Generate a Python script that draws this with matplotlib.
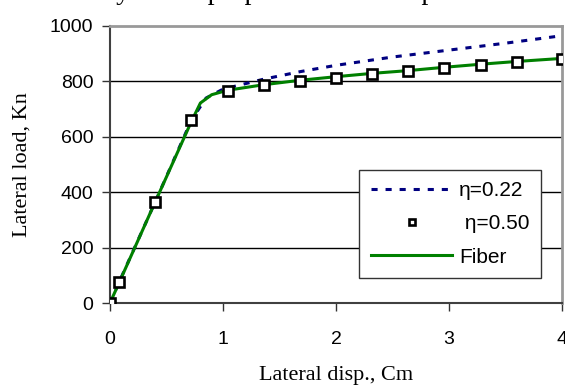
import matplotlib
matplotlib.use('Agg')
import matplotlib.pyplot as plt

# ── data ────────────────────────────────────────────────────
# eta = 0.22 (dotted)
d22 = [0, 0.08, 0.4, 0.72, 0.85, 1.0, 1.36, 1.68, 2.0, 2.5, 3.0, 3.5, 4.0]
p22 = [0, 75, 365, 660, 740, 772, 808, 835, 858, 888, 913, 938, 965]

# eta = 0.50 (markers)
d50 = [0, 0.08, 0.4, 0.72, 1.04, 1.36, 1.68, 2.0, 2.32, 2.64, 2.96, 3.28, 3.6, 4.0]
p50 = [0, 75, 365, 660, 766, 786, 801, 814, 828, 836, 848, 860, 869, 881]

# fiber model (solid)
dfb = [0, 0.4, 0.72, 0.8, 0.9, 1.04, 1.36, 1.68, 2.0, 2.32, 2.64, 2.96, 3.28, 3.6, 4.0]
pfb = [0, 365, 655, 722, 752, 768, 788, 804, 817, 829, 839, 851, 862, 872, 883]

xticks = [0, 1, 2, 3, 4]
yticks = [0, 200, 400, 600, 800, 1000]

fig = plt.figure(figsize=(5.65, 3.88), dpi=100)
ax = fig.add_axes([0.1947, 0.219, 0.8, 0.714])

# clipped caption line at top of the page (only descenders show)
fig.text(0.01, 1.003, 'results stay of the proposed model in plastic',
         family='Liberation Serif', fontsize=20, ha='left', va='baseline',
         color='black')

ax.plot(d22, p22, linestyle=(0, (2.0, 2.6)), color='#000080', lw=2.2,
        label='η=0.22', zorder=3)
ax.plot(d50, p50, linestyle='none', marker='s', ms=6.5, mfc='white',
        mec='black', mew=1.9, label=' η=0.50', zorder=5)
ax.plot(dfb, pfb, '-', color='#008000', lw=2.2, label='Fiber', zorder=4)

ax.set_xlim(0, 4)
ax.set_ylim(0, 1000)
ax.set_xticks(xticks)
ax.set_yticks(yticks)
ax.tick_params(direction='out', length=6, width=1, color='#333333',
               labelsize=14)
ax.tick_params(axis='x', pad=14)
ax.tick_params(axis='y', pad=6)
for lab in ax.get_xticklabels() + ax.get_yticklabels():
    lab.set_family('Liberation Sans')

for y in yticks[1:-1]:
    ax.axhline(y, color='black', lw=1, zorder=1)

ax.spines['left'].set_color('#404040')
ax.spines['left'].set_linewidth(1.5)
ax.spines['bottom'].set_color('#404040')
ax.spines['bottom'].set_linewidth(1.5)
ax.spines['top'].set_color('#999999')
ax.spines['top'].set_linewidth(2)
ax.spines['right'].set_color('#999999')
ax.spines['right'].set_linewidth(2)

ax.set_xlabel('Lateral disp., Cm', family='Liberation Serif', fontsize=16,
              labelpad=13)
ax.set_ylabel('Lateral load, Kn', family='Liberation Serif', fontsize=16,
              labelpad=13)

leg = ax.legend(loc='lower right', bbox_to_anchor=(0.9535, 0.09),
                prop={'family': 'Liberation Sans', 'size': 15},
                handlelength=3.9, handletextpad=0.33, borderpad=0.55,
                labelspacing=0.68, fancybox=False, framealpha=1,
                edgecolor='#333333', markerscale=0.75, borderaxespad=0)
leg.get_frame().set_linewidth(1)

fig.savefig('out.png', dpi=100, facecolor='white')
